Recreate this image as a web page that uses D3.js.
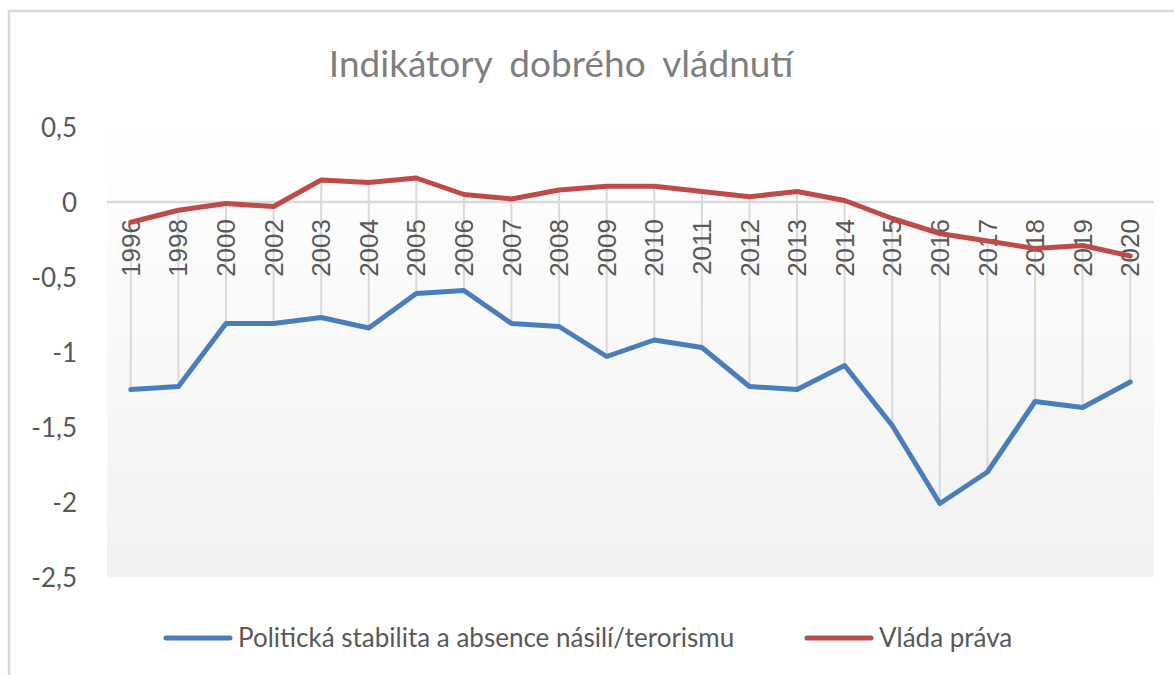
<!DOCTYPE html>
<html>
<head>
<meta charset="utf-8">
<script src="https://cdn.jsdelivr.net/npm/d3@7"></script>
<style>
  body { margin: 0; background: #fff; }
  svg { display: block; font-family: Lato, "Open Sans", sans-serif; }
</style>
</head>
<body>
<svg></svg>
<script>
// data
const years = ['1996','1998','2000','2002','2003','2004','2005','2006','2007','2008','2009',
  '2010','2011','2012','2013','2014','2015','2016','2017','2018','2019','2020']
const stabilita = [-1.25,-1.23,-0.81,-0.81,-0.77,-0.84,-0.61,-0.59,-0.81,-0.83,-1.03,
  -0.92,-0.97,-1.23,-1.25,-1.09,-1.49,-2.01,-1.80,-1.33,-1.37,-1.20]
const pravo = [-0.135,-0.055,-0.01,-0.03,0.147,0.13,0.16,0.05,0.02,0.08,0.105,
  0.105,0.07,0.035,0.07,0.01,-0.11,-0.21,-0.26,-0.31,-0.29,-0.36]
const yTicks = [0.5, 0, -0.5, -1, -1.5, -2, -2.5]
const seriesNames = ['Politická stabilita a absence násilí/terorismu', 'Vláda práva']

const width = 1174, height = 675
const plotLeft = 107, plotRight = 1154, plotTop = 127, plotBottom = 577
const blue = '#4a7ebb', red = '#be4b48'

let svg = d3.select('svg').attr('width', width).attr('height', height)

// ramecek grafu
svg.append('path')
  .attr('d', 'M9,' + height + ' V11 H' + width)
  .attr('fill', 'none').attr('stroke', '#d9d9d9').attr('stroke-width', 2.5)

// gradient pozadi
let grad = svg.append('defs').append('linearGradient')
  .attr('id', 'bg').attr('x1', 0).attr('y1', 0).attr('x2', 0).attr('y2', 1)
grad.append('stop').attr('offset', '0%').attr('stop-color', '#ffffff')
grad.append('stop').attr('offset', '100%').attr('stop-color', '#f2f2f2')

let xScale = d3.scalePoint().domain(years).range([plotLeft, plotRight]).padding(0.5)
let yScale = d3.scaleLinear().domain([-2.5, 0.5]).range([plotBottom, plotTop])

svg.append('rect')
  .attr('x', plotLeft).attr('y', plotTop)
  .attr('width', plotRight - plotLeft).attr('height', plotBottom - plotTop)
  .attr('fill', 'url(#bg)')

// osa y
svg.append('g')
  .attr('transform', 'translate(77,0)')
  .call(d3.axisLeft(yScale).tickValues(yTicks).tickSize(0)
    .tickFormat(d => String(d).replace('.', ',')))
  .call(g => g.select('.domain').remove())
  .call(g => g.selectAll('text')
    .attr('x', 0).attr('dy', '0.35em')
    .attr('fill', '#595959').attr('font-size', 26)
    .attr('font-family', 'Lato, sans-serif'))

// high-low cary
svg.append('g').selectAll('line').data(years).enter()
  .append('line')
  .attr('x1', d => xScale(d)).attr('x2', d => xScale(d))
  .attr('y1', (d, i) => yScale(Math.max(stabilita[i], pravo[i])))
  .attr('y2', (d, i) => yScale(Math.min(stabilita[i], pravo[i])))
  .attr('stroke', '#d9d9d9').attr('stroke-width', 2)

// osa x na nule
svg.append('line')
  .attr('x1', plotLeft).attr('x2', plotRight)
  .attr('y1', yScale(0)).attr('y2', yScale(0))
  .attr('stroke', '#d9d9d9').attr('stroke-width', 2.5)

// popisky let
svg.append('g').selectAll('text').data(years).enter()
  .append('text')
  .text(d => d)
  .attr('transform', d => 'translate(' + xScale(d) + ',219) rotate(-90)')
  .attr('text-anchor', 'end')
  .attr('dy', '0.35em')
  .attr('fill', '#595959')
  .attr('font-size', 26)
  .attr('font-family', '"Liberation Sans", sans-serif')

// cary
let line = d3.line().x((v, i) => xScale(years[i])).y(v => yScale(v))
svg.append('path').datum(stabilita)
  .attr('fill', 'none').attr('stroke', blue).attr('stroke-width', 5)
  .attr('stroke-linejoin', 'round').attr('stroke-linecap', 'round')
  .attr('d', line)
svg.append('path').datum(pravo)
  .attr('fill', 'none').attr('stroke', red).attr('stroke-width', 5)
  .attr('stroke-linejoin', 'round').attr('stroke-linecap', 'round')
  .attr('d', line)

// nadpis
svg.append('text')
  .text('Indikátory dobrého vládnutí')
  .attr('x', 561).attr('y', 77)
  .attr('text-anchor', 'middle')
  .attr('fill', '#7f7f7f')
  .attr('font-size', 37)
  .attr('word-spacing', 8)

// legenda
let legend = [
  { name: seriesNames[0], color: blue, x: 166 },
  { name: seriesNames[1], color: red, x: 807 }
]
let lg = svg.append('g').selectAll('g').data(legend).enter().append('g')
lg.append('line')
  .attr('x1', d => d.x).attr('x2', d => d.x + 64)
  .attr('y1', 638).attr('y2', 638)
  .attr('stroke', d => d.color).attr('stroke-width', 5)
  .attr('stroke-linecap', 'round')
lg.append('text')
  .text(d => d.name)
  .attr('x', d => d.x + 72).attr('y', 647)
  .attr('fill', '#595959')
  .attr('font-size', 26)
</script>
</body>
</html>
